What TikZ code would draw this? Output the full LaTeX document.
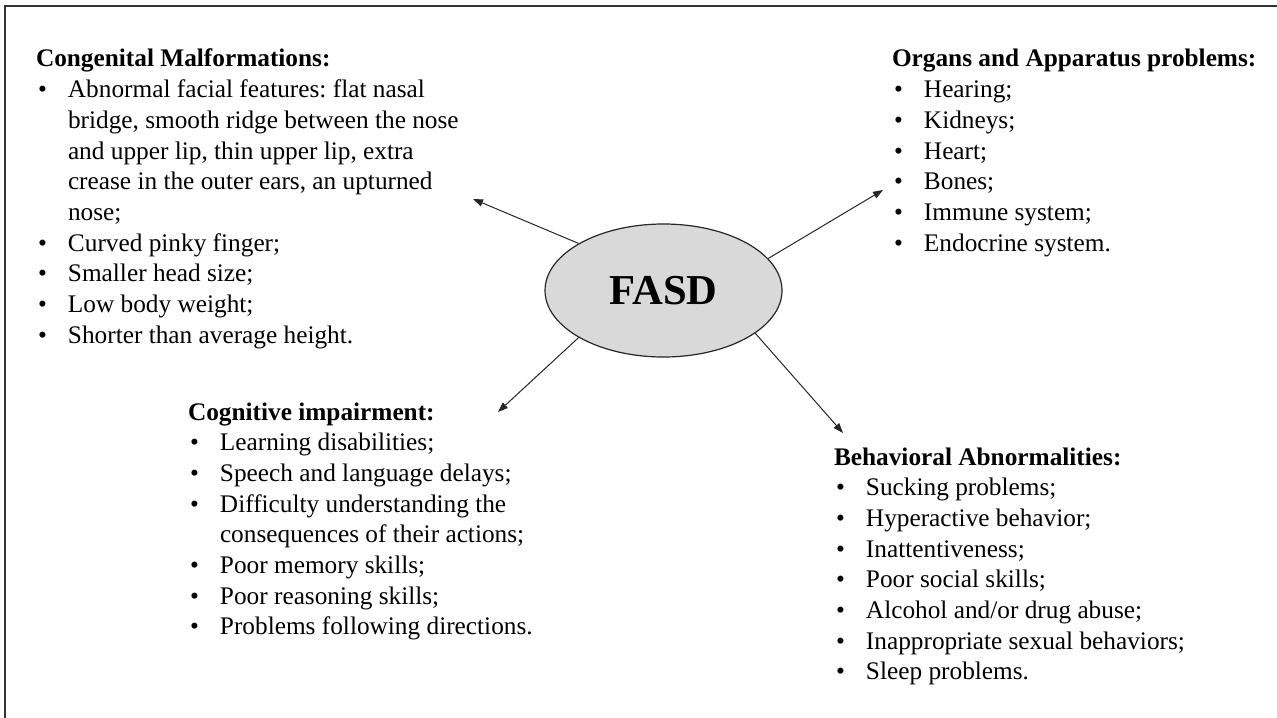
\documentclass[tikz,border=0pt]{standalone}
\usepackage{fontspec}
\setmainfont{Liberation Serif}
\usetikzlibrary{arrows.meta,shapes.geometric}
\frenchspacing
\newcommand\bu{\hspace*{1pt}\makebox[15pt][l]{\textbullet}}
\newcommand\ind{\hspace*{16pt}}
\tikzset{
  listblock/.style={anchor=base west, inner sep=0pt, outer sep=0pt,
    font=\fontsize{12.65}{15.35}\selectfont},
  hub/.style={ellipse, draw=black!85, line width=0.6pt, fill=black!15,
    minimum width=118.5pt, minimum height=66.5pt, inner sep=0pt,
    font=\fontsize{21.3}{24}\selectfont\bfseries},
  conn/.style={draw=black!85, line width=0.5pt, -{Triangle[length=5pt,width=3.6pt]}},
  frame/.style={draw=black!80, line width=0.9pt}
}
\begin{document}
\begin{tikzpicture}[x=0.5pt,y=-0.5pt]
\useasboundingbox (0,0) rectangle (1277,717);
\coordinate (fbl) at (5,730);
\coordinate (ftl) at (5,6);
\coordinate (ftr) at (1290,6);
\draw[frame] (fbl) -- (ftl) -- (ftr);

\node[hub] (fasd) at (663.5,290.5) {FASD};

\node[listblock] (cong) at (36,67) {\parbox[t]{240pt}{\frenchspacing
\textbf{Congenital Malformations:}\\
\bu Abnormal facial features: flat nasal\\
\ind bridge, smooth ridge between the nose\\
\ind and upper lip, thin upper lip, extra\\
\ind crease in the outer ears, an upturned\\
\ind nose;\\
\bu Curved pinky finger;\\
\bu Smaller head size;\\
\bu Low body weight;\\
\bu Shorter than average height.}};

\node[listblock] (org) at (892,67) {\parbox[t]{200pt}{%
\textbf{Organs and Apparatus problems:}\\
\bu Hearing;\\
\bu Kidneys;\\
\bu Heart;\\
\bu Bones;\\
\bu Immune system;\\
\bu Endocrine system.}};

\node[listblock] (cog) at (188,420) {\parbox[t]{200pt}{%
\textbf{Cognitive impairment:}\\
\bu Learning disabilities;\\
\bu Speech and language delays;\\
\bu Difficulty understanding the\\
\ind consequences of their actions;\\
\bu Poor memory skills;\\
\bu Poor reasoning skills;\\
\bu Problems following directions.}};

\node[listblock] (beh) at (834,465) {\parbox[t]{210pt}{%
\textbf{Behavioral Abnormalities:}\\
\bu Sucking problems;\\
\bu Hyperactive behavior;\\
\bu Inattentiveness;\\
\bu Poor social skills;\\
\bu Alcohol and/or drug abuse;\\
\bu Inappropriate sexual behaviors;\\
\bu Sleep problems.}};

\coordinate (t1) at (473,199);
\coordinate (t2) at (883,190);
\coordinate (t3) at (498,412);
\coordinate (t4) at (843,433);
\draw[conn] (fasd.151.7) -- (t1);
\draw[conn] (fasd.17.9) -- (t2);
\draw[conn] (fasd.209.3) -- (t3);
\draw[conn] (fasd.335) -- (t4);
\end{tikzpicture}
\end{document}
